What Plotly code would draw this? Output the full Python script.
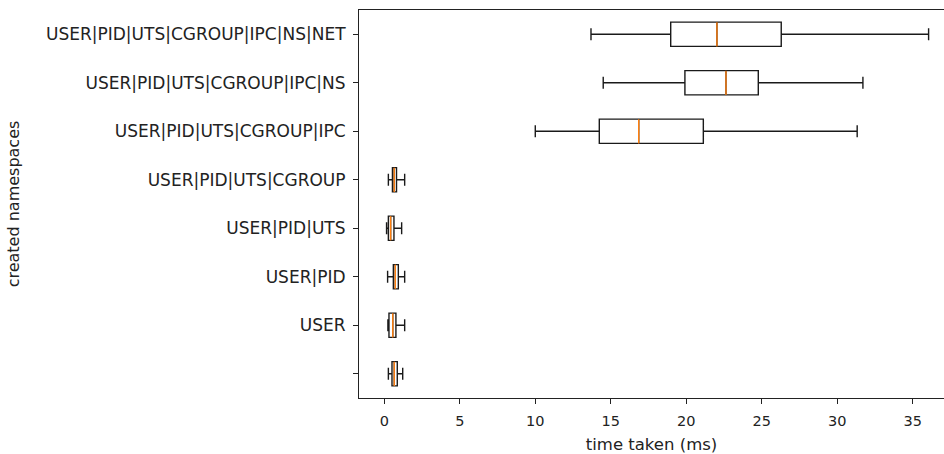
import plotly.graph_objects as go

# Categories (bottom to top)
labels = ["", "USER", "USER|PID", "USER|PID|UTS", "USER|PID|UTS|CGROUP",
          "USER|PID|UTS|CGROUP|IPC", "USER|PID|UTS|CGROUP|IPC|NS",
          "USER|PID|UTS|CGROUP|IPC|NS|NET"]
positions = [1, 2, 3, 4, 5, 6, 7, 8]

# Box statistics (ms)
lower = [0.27, 0.24, 0.22, 0.15, 0.27, 10.0, 14.5, 13.69]
q1 = [0.51, 0.31, 0.60, 0.27, 0.54, 14.24, 19.91, 18.97]
median = [0.66, 0.56, 0.73, 0.42, 0.66, 16.85, 22.63, 22.03]
q3 = [0.86, 0.77, 0.93, 0.64, 0.81, 21.13, 24.77, 26.29]
upper = [1.22, 1.35, 1.35, 1.15, 1.35, 31.32, 31.70, 36.05]

xticks = [0, 5, 10, 15, 20, 25, 30, 35]

BOX_W = 0.5
FONT = "DejaVu Sans"
TXT = "#222222"

fig = go.Figure()
fig.add_trace(go.Box(
    y=positions, q1=q1, median=median, q3=q3,
    lowerfence=lower, upperfence=upper,
    orientation="h", width=BOX_W, whiskerwidth=0.5,
    boxpoints=False, fillcolor="rgba(255,255,255,0)",
    line=dict(color="#1a1a1a", width=1.4),
    showlegend=False, hoverinfo="skip",
))

# orange median lines drawn over the boxes
mx, my = [], []
for p, m in zip(positions, median):
    mx += [m, m, None]
    my += [p - BOX_W / 2, p + BOX_W / 2, None]
fig.add_trace(go.Scatter(x=mx, y=my, mode="lines",
                         line=dict(color="#ff7f0e", width=1.4),
                         showlegend=False, hoverinfo="skip"))

fig.update_layout(
    width=944, height=454,
    margin=dict(l=359, r=0, t=10, b=56),
    paper_bgcolor="white", plot_bgcolor="white",
    font=dict(family=FONT, size=14, color=TXT),
    xaxis=dict(
        range=[-1.675, 37.07], tickvals=xticks, ticktext=[str(t) for t in xticks],
        showgrid=False, zeroline=False,
        showline=True, linecolor=TXT, linewidth=1.1, mirror=True,
        ticks="outside", ticklen=5, tickwidth=1.1, tickcolor=TXT,
        tickfont=dict(size=14.5), ticklabelstandoff=5,
        title=dict(text="time taken (ms)", font=dict(size=16.5), standoff=9),
    ),
    yaxis=dict(
        range=[0.5, 8.5], tickvals=positions, ticktext=labels,
        showgrid=False, zeroline=False,
        showline=True, linecolor=TXT, linewidth=1.1,
        ticks="outside", ticklen=5, tickwidth=1.1, tickcolor=TXT,
        tickfont=dict(size=17), ticklabelstandoff=4,
        title=dict(text="created namespaces", font=dict(size=16), standoff=22),
    ),
)

fig.write_html("out.html", config={"displayModeBar": False},
               post_script="document.body.style.margin='0';")
